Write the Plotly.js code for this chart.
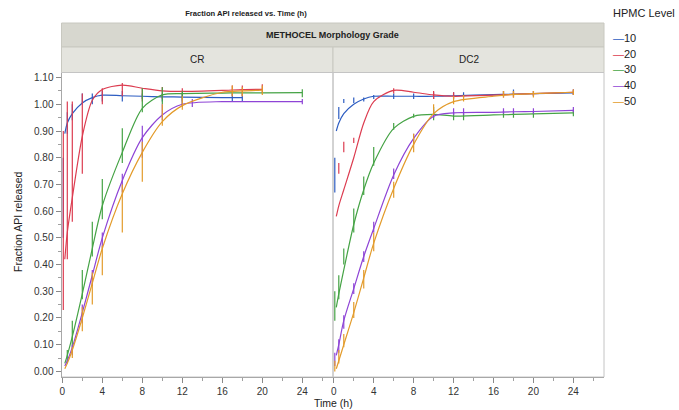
<!DOCTYPE html>
<html><head><meta charset="utf-8">
<script src="https://cdn.plot.ly/plotly-3.0.1.min.js"></script>
<style>html,body{margin:0;padding:0;background:#fff}#chart{width:679px;height:410px}</style>
</head><body><div id="chart"></div>
<script>
// ---------- data ----------
const levels = ['10', '20', '30', '40', '50'];
const panels = ['CR', 'DC2'];
const xTicks = [0, 4, 8, 12, 16, 20, 24];

// times of the fitted curves (h)
const fitTime = [0.25, 0.5, 1, 2, 3, 4, 6, 8, 10, 12, 16, 18, 20, 24];
// CR fitted curves
const fitCR10 = [0.89, 0.93, 0.965, 1.005, 1.025, 1.034, 1.032, 1.03, 1.028, 1.027, 1.025, 1.025, null, null];
const fitCR20 = [0.42, 0.52, 0.65, 0.88, 1.015, 1.055, 1.072, 1.06, 1.05, 1.048, 1.052, 1.055, 1.056, null];
const fitCR30 = [0.03, 0.06, 0.13, 0.29, 0.46, 0.62, 0.82, 0.985, 1.035, 1.04, 1.042, 1.043, 1.043, 1.044];
const fitCR40 = [0.02, 0.04, 0.09, 0.22, 0.36, 0.50, 0.715, 0.875, 0.96, 1.0, 1.01, 1.01, 1.01, 1.01];
const fitCR50 = [0.01, 0.03, 0.08, 0.20, 0.33, 0.46, 0.665, 0.82, 0.935, 0.995, 1.045, 1.05, 1.053, null];
// DC2 fitted curves
const fitDC10 = [0.90, 0.93, 0.965, 1.0, 1.02, 1.03, 1.03, 1.03, 1.03, 1.032, 1.036, 1.038, 1.04, 1.043];
const fitDC20 = [0.58, 0.62, 0.68, 0.80, 0.93, 1.01, 1.052, 1.045, 1.035, 1.03, 1.034, 1.037, 1.04, 1.045];
const fitDC30 = [0.24, 0.29, 0.38, 0.55, 0.68, 0.78, 0.91, 0.955, 0.962, 0.956, 0.96, 0.962, 0.964, 0.968];
const fitDC40 = [0.06, 0.10, 0.19, 0.31, 0.43, 0.535, 0.735, 0.872, 0.955, 0.968, 0.97, 0.972, 0.973, 0.977];
const fitDC50 = [0.01, 0.04, 0.10, 0.22, 0.35, 0.48, 0.685, 0.85, 0.965, 1.01, 1.03, 1.037, 1.04, 1.045];

// sampling times of the observed ranges (h)
const barTime = [0.1, 0.5, 1, 2, 3, 4, 6, 8, 10, 12, 13, 17, 18, 20, 24];
// CR observed low / high
const lowCR10  = [0.50, 0.89, 0.94, 1.0, 1.0, 1.01, 1.01, 1.02, 1.01, 1.01, null, 1.01, 1.01, null, null];
const highCR10 = [0.80, 0.97, 1.0, 1.04, 1.04, 1.05, 1.05, 1.04, 1.04, 1.04, null, 1.04, 1.04, null, null];
const lowCR20  = [0.23, 0.42, 0.56, 0.74, null, 1.0, 1.03, 1.01, 1.02, 1.02, null, 1.03, 1.03, 1.04, null];
const highCR20 = [0.90, 1.01, 1.01, 1.04, null, 1.06, 1.08, 1.06, 1.065, 1.06, null, 1.07, 1.07, 1.075, null];
const lowCR30  = [null, 0.03, 0.09, 0.27, 0.43, 0.57, 0.78, 0.97, 1.0, 1.0, null, null, null, null, 1.026];
const highCR30 = [null, 0.08, 0.19, 0.38, 0.56, 0.72, 0.91, 1.06, 1.064, 1.05, null, null, null, null, 1.056];
const lowCR40  = [null, null, 0.06, 0.18, 0.32, 0.46, 0.67, 0.80, 0.94, 0.99, 0.99, null, null, null, 1.0];
const highCR40 = [null, null, 0.10, 0.25, 0.38, 0.52, 0.74, 0.92, 1.0, 1.02, 1.02, null, null, null, 1.02];
const lowCR50  = [null, null, 0.05, 0.15, 0.25, 0.36, 0.52, 0.71, 0.92, 0.98, null, 1.03, 1.03, 1.035, null];
const highCR50 = [null, null, 0.09, 0.24, 0.37, 0.47, 0.70, 0.86, 1.0, 1.03, null, 1.07, 1.065, 1.07, null];
// DC2 observed low / high
const lowDC10  = [0.67, 0.945, 1.005, 1.005, 1.01, 1.02, 1.02, 1.02, 1.02, 1.025, 1.025, 1.03, 1.03, 1.03, 1.035];
const highDC10 = [0.80, 0.99, 1.02, 1.025, 1.025, 1.035, 1.04, 1.04, 1.045, 1.045, 1.045, 1.05, 1.055, 1.05, 1.055];
const lowDC20  = [null, 0.74, 0.82, 0.855, null, null, 1.04, null, 1.02, 1.02, null, 1.025, 1.025, 1.03, 1.035];
const highDC20 = [null, 0.78, 0.86, 0.875, null, null, 1.06, null, 1.05, 1.045, null, 1.05, 1.05, 1.05, 1.055];
const lowDC30  = [0.19, 0.27, 0.40, 0.52, 0.66, 0.77, 0.905, 0.95, 0.94, 0.94, 0.94, 0.95, 0.95, 0.95, 0.955];
const highDC30 = [0.30, 0.36, 0.46, 0.61, 0.73, 0.84, 0.93, 0.965, 0.99, 0.97, 0.97, 0.975, 0.975, 0.975, 0.98];
const lowDC40  = [0.02, 0.07, 0.16, 0.29, 0.41, 0.52, 0.72, 0.85, 0.95, 0.96, 0.96, 0.965, 0.965, 0.965, 0.97];
const highDC40 = [0.07, 0.12, 0.21, 0.33, 0.45, 0.56, 0.76, 0.89, 0.98, 0.985, 0.985, 0.985, 0.985, 0.985, 0.99];
const lowDC50  = [0.0, 0.03, 0.09, 0.20, 0.31, 0.45, 0.65, 0.82, 0.96, 1.0, 1.01, 1.025, 1.025, 1.025, 1.035];
const highDC50 = [0.04, 0.08, 0.14, 0.26, 0.38, 0.52, 0.71, 0.89, 1.0, 1.03, 1.035, 1.05, 1.05, 1.05, 1.055];

// ---------- styling ----------
const colors = ['#2D5DC2', '#DC3C50', '#45A345', '#8E44D6', '#E39B2B'];
const FONT = 'Liberation Sans, Arial, sans-serif';
const W = 679, H = 410;
const px = v => v / W, py = v => 1 - v / H;

const fitsByPanel = [[fitCR10, fitCR20, fitCR30, fitCR40, fitCR50], [fitDC10, fitDC20, fitDC30, fitDC40, fitDC50]];
const lowsByPanel = [[lowCR10, lowCR20, lowCR30, lowCR40, lowCR50], [lowDC10, lowDC20, lowDC30, lowDC40, lowDC50]];
const highsByPanel = [[highCR10, highCR20, highCR30, highCR40, highCR50], [highDC10, highDC20, highDC30, highDC40, highDC50]];

const traces = [];
panels.forEach((p, pi) => {
  const xa = pi === 0 ? 'x' : 'x2';
  levels.forEach((lv, li) => {
    const bx = [], by = [];
    barTime.forEach((t, i) => {
      const lo = lowsByPanel[pi][li][i], hi = highsByPanel[pi][li][i];
      if (lo === null || hi === null) return;
      bx.push(t, t, null); by.push(lo, hi, null);
    });
    traces.push({
      x: bx, y: by, xaxis: xa, yaxis: 'y', mode: 'lines', showlegend: false,
      line: {color: colors[li], width: 1.2}, hoverinfo: 'skip', name: p + ' ' + lv
    });
    traces.push({
      x: fitTime, y: fitsByPanel[pi][li], xaxis: xa, yaxis: 'y', mode: 'lines', showlegend: false,
      line: {color: colors[li], width: 1.2, shape: 'spline', smoothing: 0.8}, name: p + ' ' + lv + ' fit'
    });
  });
});

const L = 61.5, MID = 333, R = 604, TOP = 72.5, BOT = 377;
const xBase = {
  range: [-0.08, 27.07], tickvals: xTicks, ticks: 'outside', ticklen: 5, tickcolor: '#8a8a8a',
  showline: true, linecolor: '#a8a8a8', linewidth: 1, showgrid: false, zeroline: false,
  tickfont: {family: FONT, size: 10, color: '#333'}, anchor: 'y',
  minor: {ticks: 'outside', ticklen: 3, dtick: 2, tick0: 0, tickcolor: '#a0a0a0', showgrid: false}
};
const ann = (text, x, y, size, extra) => Object.assign({
  text: text, x: px(x), y: py(y), xref: 'paper', yref: 'paper', showarrow: false,
  xanchor: 'center', yanchor: 'middle', font: {family: FONT, size: size, color: '#222'}
}, extra || {});

const layout = {
  width: W, height: H, margin: {l: 0, r: 0, t: 0, b: 0},
  paper_bgcolor: '#fff', plot_bgcolor: '#fff', showlegend: false,
  font: {family: FONT, color: '#222'},
  title: {text: '<b>Fraction API released vs. Time (h)</b>', font: {family: FONT, size: 7.6, color: '#222'},
          x: px(246), xanchor: 'center', xref: 'paper', y: py(13), yanchor: 'middle', yref: 'paper'},
  xaxis: Object.assign({}, xBase, {domain: [px(L), px(MID)]}),
  xaxis2: Object.assign({}, xBase, {domain: [px(MID), px(R)]}),
  yaxis: {
    domain: [py(BOT), py(TOP)], range: [-0.021, 1.119], tick0: 0, dtick: 0.1, tickformat: '.2f',
    ticks: 'outside', ticklen: 5, tickcolor: '#8a8a8a', showline: true, linecolor: '#a8a8a8',
    showgrid: false, zeroline: false, anchor: 'x', tickfont: {family: FONT, size: 10, color: '#333'},
    minor: {ticks: 'outside', ticklen: 3, dtick: 0.05, tick0: 0, tickcolor: '#a0a0a0', showgrid: false}
  },
  shapes: [
    {type: 'rect', xref: 'paper', yref: 'paper', x0: px(L), x1: px(R), y0: py(47), y1: py(23),
     fillcolor: '#D7D7CF', line: {color: '#C8C8C0', width: 1}, layer: 'below'},
    {type: 'rect', xref: 'paper', yref: 'paper', x0: px(L), x1: px(MID), y0: py(TOP), y1: py(47),
     fillcolor: '#E4E4DE', line: {color: '#C8C8C0', width: 1}, layer: 'below'},
    {type: 'rect', xref: 'paper', yref: 'paper', x0: px(MID), x1: px(R), y0: py(TOP), y1: py(47),
     fillcolor: '#E4E4DE', line: {color: '#C8C8C0', width: 1}, layer: 'below'},
    {type: 'rect', xref: 'paper', yref: 'paper', x0: px(L), x1: px(MID), y0: py(BOT), y1: py(TOP),
     line: {color: '#C4C4C4', width: 1}, layer: 'below'},
    {type: 'rect', xref: 'paper', yref: 'paper', x0: px(MID), x1: px(R), y0: py(BOT), y1: py(TOP),
     line: {color: '#C4C4C4', width: 1}, layer: 'below'}
  ],
  annotations: [
    ann('<b>METHOCEL Morphology Grade</b>', (L + R) / 2, 35, 9),
    ann(panels[0], (L + MID) / 2, 59.5, 10),
    ann(panels[1], (MID + R) / 2, 59.5, 10),
    ann('Fraction API released', 18, 222, 10.5, {textangle: -90}),
    ann('Time (h)', 333, 403, 10.5),
    ann('HPMC Level', 611, 13, 11, {xanchor: 'left'})
  ].concat(levels.map((lv, i) =>
    ann('<span style="color:' + colors[i] + '">—</span>' + lv, 611, 38 + i * 15.7, 11, {xanchor: 'left'})
  ))
};

Plotly.newPlot('chart', traces, layout, {staticPlot: true, displayModeBar: false});
</script></body></html>
